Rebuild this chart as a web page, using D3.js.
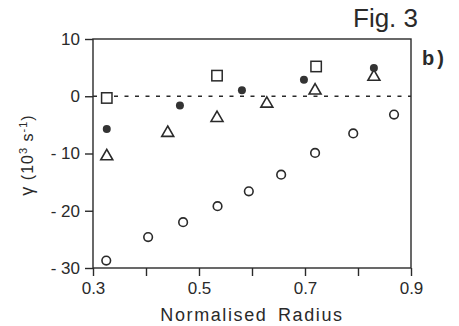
<!DOCTYPE html>
<html>
<head>
<meta charset="utf-8">
<script src="https://cdn.jsdelivr.net/npm/d3@7"></script>
<style>
  body { margin: 0; background: #fff; }
  svg text { font-family: "Liberation Sans", Arial, sans-serif; fill: #2a2a2a; }
</style>
</head>
<body>
<div id="chart"></div>
<script>
// values
const squareX = [0.326, 0.534, 0.721];
const squareY = [-0.3, 3.6, 5.2];

const dotX = [0.326, 0.464, 0.581, 0.698, 0.830];
const dotY = [-5.7, -1.6, 1.05, 2.9, 4.95];

const triX = [0.326, 0.441, 0.534, 0.628, 0.719, 0.830];
const triY = [-10.5, -6.4, -3.8, -1.3, 1.0, 3.4];

const ringX = [0.325, 0.404, 0.470, 0.535, 0.594, 0.655, 0.719, 0.791, 0.868];
const ringY = [-28.7, -24.6, -22.0, -19.2, -16.6, -13.7, -9.9, -6.5, -3.2];

const xTicks = [0.3, 0.4, 0.5, 0.6, 0.7, 0.8, 0.9];
const xTickLabels = [0.3, 0.5, 0.7, 0.9];
const yTicks = [-30, -20, -10, 0, 10];

const W = 459, H = 326;
const margin = { top: 39, right: 48, bottom: 58, left: 93 };
const width = W - margin.left - margin.right;
const height = H - margin.top - margin.bottom;
const ink = '#2a2a2a';

const svg = d3.select('#chart').append('svg')
  .attr('width', W)
  .attr('height', H);

const g = svg.append('g')
  .attr('transform', `translate(${margin.left},${margin.top})`);

const x = d3.scaleLinear().domain([0.3, 0.9]).range([0, width]);
const y = d3.scaleLinear().domain([-30, 10]).range([height, 0]);

// frame
g.append('rect')
  .attr('width', width)
  .attr('height', height)
  .attr('fill', 'none')
  .attr('stroke', ink)
  .attr('stroke-width', 1.4);

// zero reference line
g.append('line')
  .attr('x1', 0).attr('x2', width)
  .attr('y1', y(0)).attr('y2', y(0))
  .attr('stroke', ink)
  .attr('stroke-width', 1.3)
  .attr('stroke-dasharray', '4,6.5');

const xAxis = d3.axisBottom(x)
  .tickValues(xTicks)
  .tickSize(8)
  .tickPadding(6)
  .tickFormat((d) => (xTickLabels.some((v) => Math.abs(v - d) < 1e-9) ? d3.format('.1f')(d) : ''));

const yAxis = d3.axisLeft(y)
  .tickValues(yTicks)
  .tickSize(8)
  .tickPadding(5)
  .tickFormat((d) => (d < 0 ? `- ${Math.abs(d)}` : `${d}`));

[g.append('g').attr('transform', `translate(0,${height})`).call(xAxis),
  g.append('g').call(yAxis)].forEach((ax) => {
  ax.select('.domain').remove();
  ax.selectAll('.tick line').attr('stroke', ink).attr('stroke-width', 1.4);
  ax.selectAll('.tick text').style('font-size', '17px').attr('fill', ink);
});

// markers
g.selectAll('.ring')
  .data(ringX.map((v, i) => [v, ringY[i]]))
  .enter().append('circle')
  .attr('cx', (d) => x(d[0]))
  .attr('cy', (d) => y(d[1]))
  .attr('r', 4.3)
  .attr('fill', '#fff')
  .attr('stroke', ink)
  .attr('stroke-width', 1.6);

g.selectAll('.square')
  .data(squareX.map((v, i) => [v, squareY[i]]))
  .enter().append('rect')
  .attr('x', (d) => x(d[0]) - 5.2)
  .attr('y', (d) => y(d[1]) - 5.2)
  .attr('width', 10.4)
  .attr('height', 10.4)
  .attr('fill', '#fff')
  .attr('stroke', ink)
  .attr('stroke-width', 1.5);

const tri = d3.symbol().type(d3.symbolTriangle).size(62);
g.selectAll('.tri')
  .data(triX.map((v, i) => [v, triY[i]]))
  .enter().append('path')
  .attr('d', tri)
  .attr('transform', (d) => `translate(${x(d[0])},${y(d[1])})`)
  .attr('fill', '#fff')
  .attr('stroke', ink)
  .attr('stroke-width', 1.6);

g.selectAll('.dot')
  .data(dotX.map((v, i) => [v, dotY[i]]))
  .enter().append('circle')
  .attr('cx', (d) => x(d[0]))
  .attr('cy', (d) => y(d[1]))
  .attr('r', 4)
  .attr('fill', '#333');

// labels
svg.append('text')
  .attr('x', 353).attr('y', 27)
  .style('font-size', '26px')
  .text('Fig. 3');

svg.append('text')
  .attr('x', 422).attr('y', 65)
  .style('font-size', '20px')
  .style('font-weight', 'bold')
  .style('letter-spacing', '3px')
  .text('b)');

svg.append('text')
  .attr('x', margin.left + width / 2).attr('y', 321)
  .attr('text-anchor', 'middle')
  .style('font-size', '18px')
  .style('letter-spacing', '1.6px')
  .style('word-spacing', '4px')
  .text('Normalised Radius');

const yl = svg.append('text')
  .attr('transform', 'translate(33,155) rotate(-90)')
  .attr('text-anchor', 'middle')
  .style('font-size', '16px')
  .style('letter-spacing', '1px');
yl.append('tspan').style('font-size', '18px').text('γ');
yl.append('tspan').text('  (10');
yl.append('tspan').attr('dy', -6).style('font-size', '11px').text('3');
yl.append('tspan').attr('dy', 6).text(' s');
yl.append('tspan').attr('dy', -6).style('font-size', '11px').text('-1');
yl.append('tspan').attr('dy', 6).text(')');
</script>
</body>
</html>
